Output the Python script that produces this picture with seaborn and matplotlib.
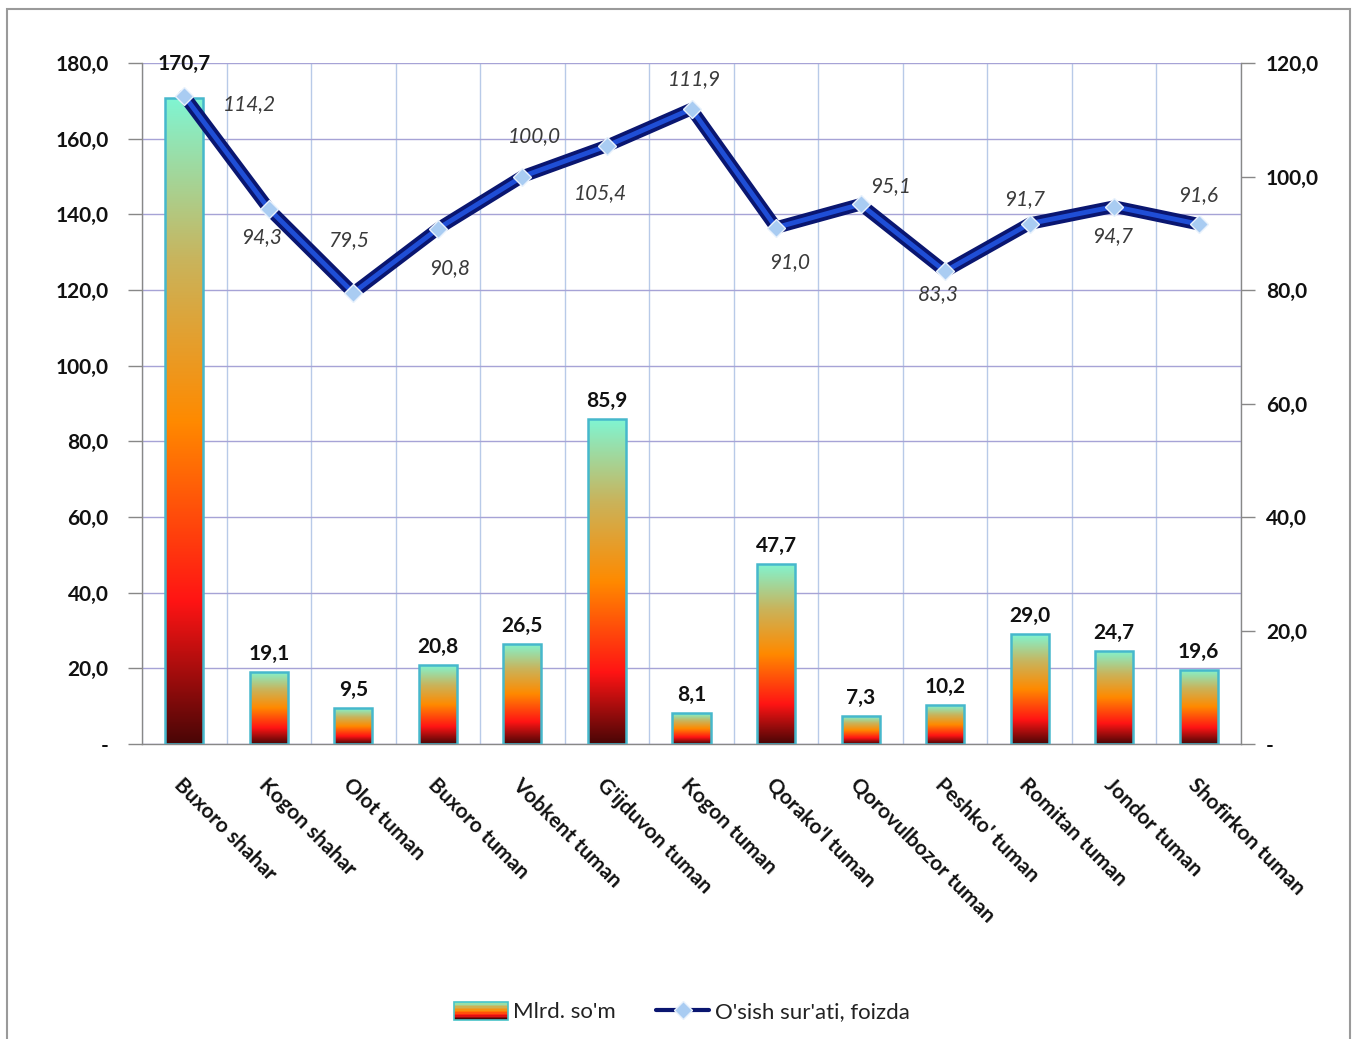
import numpy as np
import matplotlib
matplotlib.use("Agg")
import matplotlib.pyplot as plt
import seaborn as sns
from matplotlib.colors import LinearSegmentedColormap
from matplotlib.patches import Rectangle
from matplotlib.lines import Line2D
from matplotlib.legend_handler import HandlerBase
from matplotlib.ticker import FuncFormatter, FixedLocator

# ── 数据 ──
districts = ["Buxoro shahar", "Kogon shahar", "Olot tuman", "Buxoro tuman",
             "Vobkent tuman", "G'ijduvon tuman", "Kogon tuman", "Qorako'l tuman",
             "Qorovulbozor tuman", "Peshko' tuman", "Romitan tuman",
             "Jondor tuman", "Shofirkon tuman"]
volume = [170.7, 19.1, 9.5, 20.8, 26.5, 85.9, 8.1, 47.7, 7.3, 10.2, 29.0, 24.7, 19.6]
growth = [114.2, 94.3, 79.5, 90.8, 100.0, 105.4, 111.9, 91.0, 95.1, 83.3, 91.7, 94.7, 91.6]
bar_name = "Mlrd. so'm"
line_name = "O'sish sur'ati, foizda"

# ── 样式 ──
sns.set_theme(style="white")
plt.rcParams["font.family"] = ["Lato", "DejaVu Sans"]
plt.rcParams["axes.unicode_minus"] = False

grad = LinearSegmentedColormap.from_list(
    "bar_grad", [(0.0, "#4a0606"), (0.22, "#ff1414"), (0.5, "#ff8a00"),
                 (0.75, "#c9b45c"), (1.0, "#80f5d2")])
NAVY = "#0a1670"
MID = "#1f4ed6"
MARK = "#a9ccf2"

# 折线标注偏移（像素）
lab_off = [(65, -8), (-7, -28), (-5, 53), (12, -39), (12, 40), (-7, -47), (3, 30),
           (14, -35), (30, 18), (-7, -23), (-5, 25), (-2, -30), (-1, 29)]
bar_pad = [24] + [8] * 12


def fmt(v):
    return "-" if abs(v) < 1e-9 else f"{v:.1f}".replace(".", ",")


fig = plt.figure(figsize=(13.54, 10.39), dpi=100)
ax = fig.add_axes([142 / 1354, 1 - 744 / 1039, (1241 - 142) / 1354, (744 - 63) / 1039])

sns.barplot(x=districts, y=volume, ax=ax, width=0.45, color="#ff8a00", zorder=3)

# 每根柱子填渐变
g = np.linspace(0, 1, 256).reshape(-1, 1)
for p in ax.patches:
    x0, y0 = p.get_x(), p.get_y()
    w, h = p.get_width(), p.get_height()
    im = ax.imshow(g, cmap=grad, origin="lower", aspect="auto",
                   extent=(x0, x0 + w, y0, y0 + h), zorder=2.5)
    im.set_clip_path(p)
    p.set_facecolor("none")
    p.set_edgecolor("#46b8cc")
    p.set_linewidth(1.8)

for i, p in enumerate(ax.patches):
    ax.annotate(fmt(volume[i]), (p.get_x() + p.get_width() / 2, p.get_height()),
                xytext=(0, bar_pad[i]), textcoords="offset pixels",
                ha="center", va="bottom", fontsize=15, fontweight="bold", color="#111111")

ax.set_xlim(-0.5, len(districts) - 0.5)
ax.set_ylim(0, 180)
ax.yaxis.set_major_locator(FixedLocator(np.arange(0, 181, 20)))
ax.yaxis.set_major_formatter(FuncFormatter(lambda v, _: fmt(v)))
ax.set_xlabel("")
ax.set_ylabel("")

ax.set_xticks(range(len(districts)))
ax.set_xticklabels(districts, rotation=-45, ha="left", va="top",
                   rotation_mode="anchor", fontsize=15, fontweight="bold", color="#111111")
ax.set_xticks(np.arange(-0.5, len(districts), 1), minor=True)
ax.tick_params(axis="x", which="major", length=0, pad=22)
ax.tick_params(axis="x", which="minor", length=8, width=1, color="#888888", direction="out")
ax.tick_params(axis="y", length=10, width=1, color="#888888", direction="out",
               pad=14, labelsize=15, labelcolor="#111111")
for t in ax.get_yticklabels():
    t.set_fontweight("bold")

ax.grid(False)
ax.yaxis.grid(True, color="#a6a3d6", linewidth=1, zorder=0)
ax.xaxis.grid(True, which="minor", color="#b8cae8", linewidth=1, zorder=0)
ax.set_axisbelow(True)
for s in ["left", "bottom", "right"]:
    ax.spines[s].set_color("#888888")
    ax.spines[s].set_linewidth(1)
ax.spines["top"].set_visible(False)

# ── 折线（右轴） ──
ax2 = ax.twinx()
xpos = list(range(len(districts)))
sns.lineplot(x=xpos, y=growth, ax=ax2, color=NAVY, linewidth=9, sort=False,
             solid_joinstyle="round", solid_capstyle="round")
ax2.plot(xpos, growth, color=MID, linewidth=3.5, solid_joinstyle="round")
ax2.plot(xpos, growth, linestyle="none", marker="D", markersize=9,
         markerfacecolor=MARK, markeredgecolor="#e8f1fc", markeredgewidth=1)
for i, v in enumerate(growth):
    ax2.annotate(fmt(v), (i, v), xytext=lab_off[i], textcoords="offset pixels",
                 ha="center", va="center", fontsize=15, fontstyle="italic", color="#3a3a3a")

ax2.set_ylim(0, 120)
ax2.yaxis.set_major_locator(FixedLocator(np.arange(0, 121, 20)))
ax2.yaxis.set_major_formatter(FuncFormatter(lambda v, _: fmt(v)))
ax2.set_ylabel("")
ax2.tick_params(axis="y", length=10, width=1, color="#888888", direction="out",
                pad=8, labelsize=15, labelcolor="#111111")
for t in ax2.get_yticklabels():
    t.set_fontweight("bold")
ax2.grid(False)
for s in ax2.spines.values():
    s.set_visible(False)


# ── 图例 ──
class GradHandler(HandlerBase):
    def create_artists(self, legend, orig, xd, yd, width, height, fontsize, trans):
        n = 12
        arts = []
        for k in range(n):
            arts.append(Rectangle((-xd, -yd + k * height / n), width, height / n,
                                  facecolor=grad(k / (n - 1)), lw=0, transform=trans))
        arts.append(Rectangle((-xd, -yd), width, height, facecolor="none",
                              edgecolor="#48c4c8", lw=1.2, transform=trans))
        return arts


bar_handle = Rectangle((0, 0), 1, 1)
line_handle = Line2D([], [], color=NAVY, linewidth=3, marker="D", markersize=9,
                     markerfacecolor=MARK, markeredgecolor="#e8f1fc")
fig.legend([bar_handle, line_handle], [bar_name, line_name],
           handler_map={Rectangle: GradHandler()},
           loc="center", bbox_to_anchor=(682 / 1354, 1 - 1012 / 1039), ncol=2,
           frameon=False, fontsize=16, handlelength=2.4, handleheight=0.9,
           columnspacing=1.8, handletextpad=0.25, labelcolor="#222222")

# 外框
fig.patches.append(Rectangle((7 / 1354, -0.02), (1350 - 7) / 1354, 1.02 - 9 / 1039,
                             transform=fig.transFigure, fill=False,
                             edgecolor="#9a9a9a", linewidth=1.5))

fig.savefig("out.png", dpi=100, facecolor="white")
